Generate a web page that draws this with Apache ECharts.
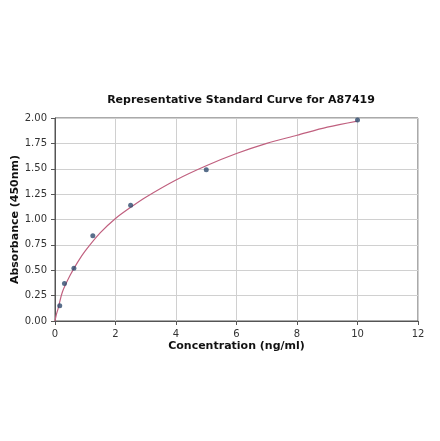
<!DOCTYPE html>
<html>
<head>
<meta charset="utf-8">
<script src="https://cdn.jsdelivr.net/npm/echarts@6/dist/echarts.min.js"></script>
<style>
  html, body { margin: 0; padding: 0; background: #fff; }
  #chart { width: 440px; height: 441px; }
</style>
</head>
<body>
<div id="chart"></div>
<script>
// standard points
var stdConc = [0.156, 0.3125, 0.625, 1.25, 2.5, 5, 10];
var stdOD = [0.15, 0.37, 0.52, 0.84, 1.14, 1.49, 1.98];

// fitted curve
var curveConc = [0, 0.05, 0.1, 0.25, 0.5, 0.75, 1, 1.5, 2, 2.5, 3, 4, 5, 6, 7, 8, 9, 10];
var curveOD = [0, 0.07, 0.12, 0.29, 0.45, 0.58, 0.69, 0.87, 1.01, 1.12, 1.22, 1.39, 1.53, 1.65, 1.75, 1.83, 1.91, 1.97];

const TITLE = 'Representative Standard Curve for A87419';
const CURVE_COLOR = '#c0607f';
const POINT_COLOR = '#2f4b6e';

var pairs = (xs, ys) => xs.map((x, i) => [x, ys[i]]);

var axisCommon = {
    axisLine: { show: true, lineStyle: { color: '#555', width: 1 } },
    axisTick: { show: true, length: 4, lineStyle: { color: '#555' } },
    axisLabel: { color: '#333', fontSize: 10, fontFamily: 'DejaVu Sans' },
    splitLine: { show: true, lineStyle: { color: '#d0d0d0', width: 1 } },
    nameTextStyle: { color: '#111', fontSize: 11, fontWeight: 'bold', fontFamily: 'DejaVu Sans' }
};

var option = {
    backgroundColor: '#fff',
    animation: false,
    title: {
        text: TITLE,
        left: 236,
        textAlign: 'center',
        top: 90,
        textStyle: { fontSize: 11, fontWeight: 'bold', color: '#111', fontFamily: 'DejaVu Sans' }
    },
    grid: {
        left: 55, right: 22, top: 118, bottom: 120,
        containLabel: false, outerBoundsMode: 'none',
        show: true, borderColor: '#555', borderWidth: 1
    },
    xAxis: Object.assign({}, axisCommon, {
        type: 'value',
        min: 0,
        max: 12,
        interval: 2,
        name: 'Concentration (ng/ml)',
        nameLocation: 'middle',
        nameGap: 20
    }),
    yAxis: Object.assign({}, axisCommon, {
        type: 'value',
        min: 0,
        max: 2,
        interval: 0.25,
        name: 'Absorbance (450nm)',
        nameLocation: 'middle',
        nameGap: 34,
        nameMoveOverlap: false,
        axisLabel: Object.assign({}, axisCommon.axisLabel, {
            formatter: v => v.toFixed(2)
        })
    }),
    series: [
        {
            type: 'line',
            data: pairs(curveConc, curveOD),
            smooth: 0.3,
            showSymbol: false,
            lineStyle: { color: CURVE_COLOR, width: 1.2 },
            z: 2
        },
        {
            type: 'scatter',
            data: pairs(stdConc, stdOD),
            symbolSize: 5,
            itemStyle: { color: POINT_COLOR },
            z: 3
        }
    ]
};

var chart = echarts.init(document.getElementById('chart'));
chart.setOption(option);
</script>
</body>
</html>
